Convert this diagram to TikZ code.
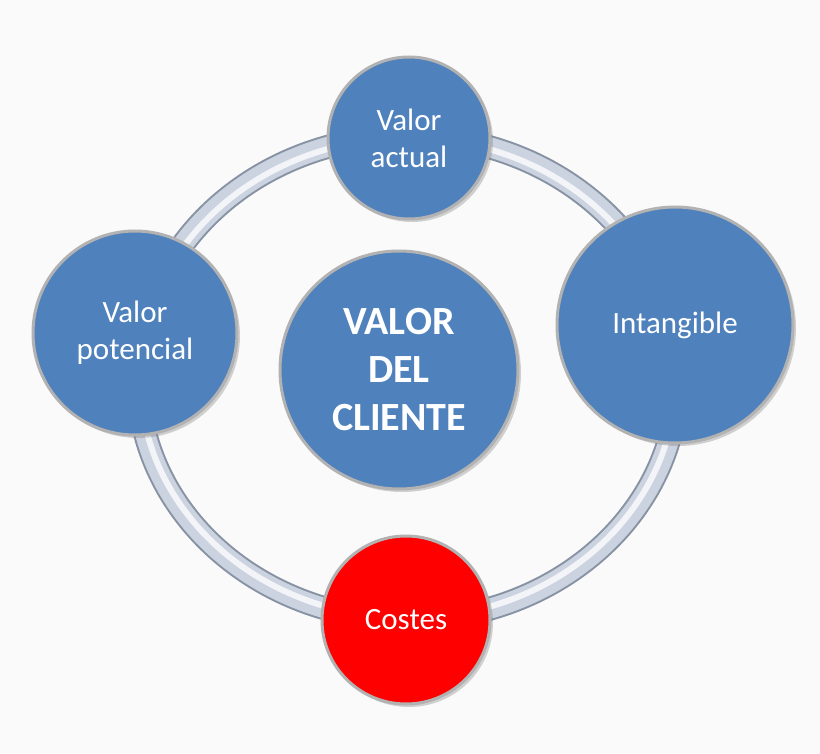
\documentclass[tikz,border=0pt]{standalone}
\usepackage{fontspec}
\setmainfont{Carlito}
\usetikzlibrary{positioning,shadows}
\definecolor{ballblue}{HTML}{4F81BD}
\definecolor{ringgray}{HTML}{A9B6CC}
\tikzset{ball/.style={circle,draw=gray!60,line width=3pt,fill=ballblue,text=white,
    align=center,font=\fontsize{31}{37}\selectfont,inner sep=0pt,
    drop shadow={shadow xshift=3pt,shadow yshift=-3pt,opacity=0.35}}}
\begin{document}
\begin{tikzpicture}[x=1pt,y=-1pt]
    \useasboundingbox[fill=white!96!gray] (0,0) rectangle (820,754);
    % ring
    \draw[ringgray!80!black,line width=24pt] (408,378) ellipse [x radius=270,y radius=242];
    \draw[ringgray!60,line width=20pt] (408,378) ellipse [x radius=270,y radius=242];
    \draw[white!85!ringgray,line width=6pt] (408,378) ellipse [x radius=268,y radius=240];
    % circles
    \node[ball,minimum size=162pt] (actual) at (409,138) {Valor\\actual};
    \node[ball,minimum size=204pt] (potencial) at (135,333) {Valor\\potencial};
    \node[ball,minimum size=236pt] (intangible) at (675,325) {Intangible};
    \node[ball,minimum size=168pt,fill=red] (costes) at (406,620) {Costes};
    \node[ball,minimum size=238pt,font=\fontsize{40}{48}\selectfont\bfseries] (cliente) at (399,370) {VALOR\\DEL\\CLIENTE};
\end{tikzpicture}
\end{document}
